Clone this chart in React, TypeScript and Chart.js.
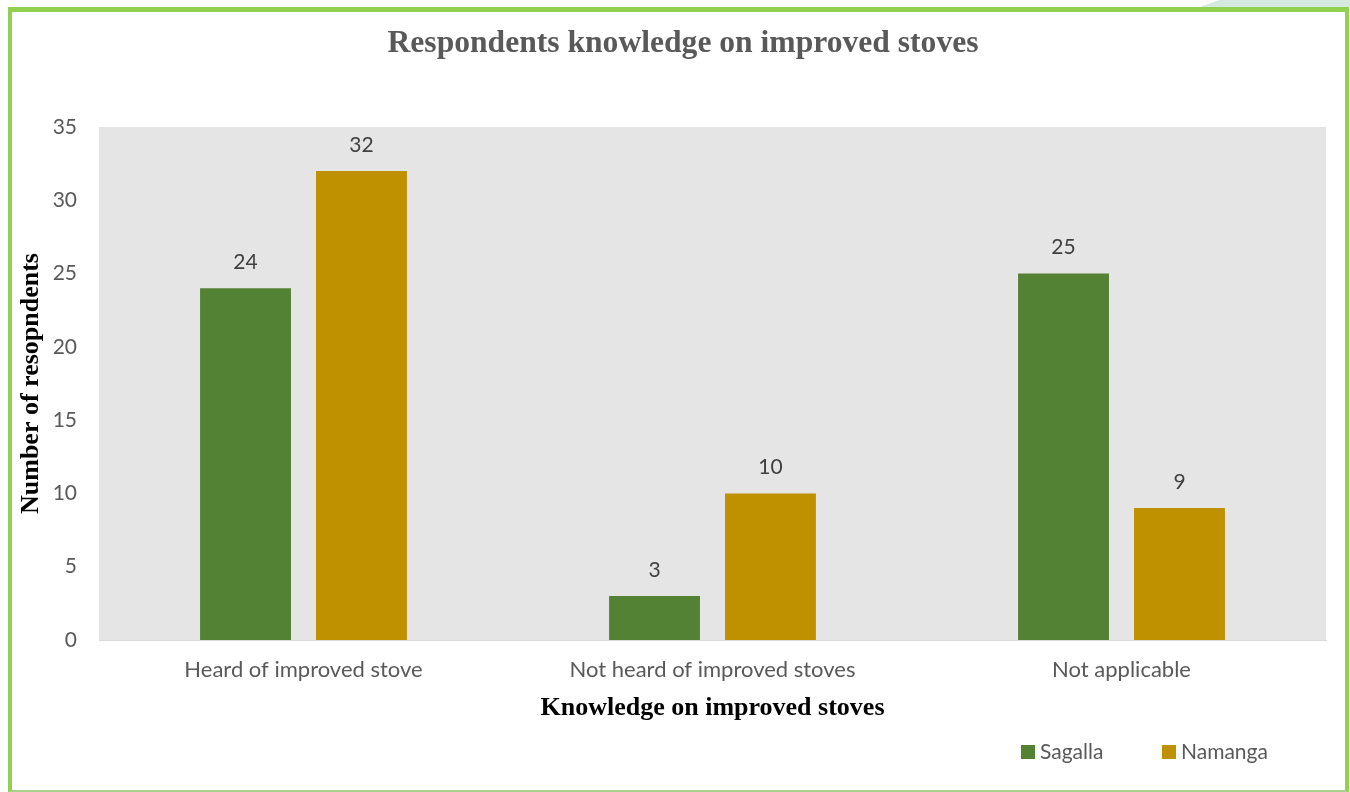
import React, { useEffect, useRef } from "react";
import { Chart, registerables } from "chart.js";

Chart.register(...registerables);

const chartTitle = "Respondents knowledge on improved stoves";
const categories = ["Heard of improved stove", "Not heard of improved stoves", "Not applicable"];
const sagalla = [24, 3, 25];
const namanga = [32, 10, 9];
const seriesNames = ["Sagalla", "Namanga"];
const yTicks = [0, 5, 10, 15, 20, 25, 30, 35];

const TEXT_GRAY = "#595959";
const SANS = "Lato, 'Open Sans', sans-serif";
const SERIF = "'Liberation Serif', 'DejaVu Serif', serif";

const plotBg = {
  id: "plotBg",
  beforeDraw(chart: any) {
    const { ctx, chartArea } = chart;
    if (!chartArea) return;
    ctx.save();
    ctx.fillStyle = "#e5e5e5";
    ctx.fillRect(chartArea.left, chartArea.top, chartArea.right - chartArea.left, chartArea.bottom - chartArea.top);
    ctx.restore();
  },
};

const valueLabels = {
  id: "valueLabels",
  afterDatasetsDraw(chart: any) {
    const { ctx } = chart;
    ctx.save();
    ctx.font = `21px ${SANS}`;
    ctx.fillStyle = "#404040";
    ctx.textAlign = "center";
    ctx.textBaseline = "middle";
    chart.data.datasets.forEach((ds: any, i: number) => {
      const meta = chart.getDatasetMeta(i);
      meta.data.forEach((bar: any, j: number) => {
        ctx.fillText(String(ds.data[j]), bar.x, bar.y - 26);
      });
    });
    ctx.restore();
  },
};

const titlePlugin = {
  id: "titlePlugin",
  afterDraw(chart: any) {
    const { ctx } = chart;
    ctx.save();
    ctx.font = `bold 31.6px ${SERIF}`;
    ctx.fillStyle = TEXT_GRAY;
    ctx.textAlign = "center";
    ctx.textBaseline = "middle";
    ctx.fillText(chartTitle, 683, 44);
    ctx.restore();
  },
};

// Legend drawn at the bottom-right like the original
const legendStarts = [1021, 1162];
const customLegend = {
  id: "customLegend",
  afterDraw(chart: any) {
    const { ctx } = chart;
    ctx.save();
    ctx.font = `21px ${SANS}`;
    ctx.textAlign = "left";
    ctx.textBaseline = "middle";
    const cy = 752;
    chart.data.datasets.forEach((ds: any, i: number) => {
      const x = legendStarts[i];
      ctx.fillStyle = ds.backgroundColor;
      ctx.fillRect(x, cy - 7, 14, 14);
      ctx.fillStyle = TEXT_GRAY;
      ctx.fillText(ds.label, x + 19, cy);
    });
    ctx.restore();
  },
};

export default function App() {
  const ref = useRef<HTMLCanvasElement>(null);
  useEffect(() => {
    if (!ref.current) return;
    const chart = new Chart(ref.current, {
      type: "bar",
      data: {
        labels: categories,
        datasets: [
          {
            label: seriesNames[0],
            data: sagalla,
            backgroundColor: "#548235",
            categoryPercentage: 0.567,
            barPercentage: 0.784,
          },
          {
            label: seriesNames[1],
            data: namanga,
            backgroundColor: "#bf9000",
            categoryPercentage: 0.567,
            barPercentage: 0.784,
          },
        ],
      },
      options: {
        animation: false,
        responsive: false,
        maintainAspectRatio: false,
        layout: { padding: { left: 12, right: 24, top: 127, bottom: 60 } },
        plugins: {
          tooltip: { enabled: false },
          title: { display: false },
          legend: { display: false },
        },
        scales: {
          x: {
            grid: { display: false, drawTicks: false },
            border: { display: true, color: "#d9d9d9" },
            ticks: { color: TEXT_GRAY, font: { family: SANS, size: 22 }, padding: 17 },
            title: {
              display: true,
              text: "Knowledge on improved stoves",
              color: "#000000",
              font: { family: SERIF, size: 26, weight: "bold" },
              padding: { top: 0, bottom: 8 },
            },
            afterFit(scale: any) {
              scale.height = 92;
            },
          },
          y: {
            min: 0,
            max: 35,
            afterBuildTicks(scale: any) {
              scale.ticks = yTicks.map((v) => ({ value: v }));
            },
            grid: { display: false, drawTicks: false },
            border: { display: false },
            ticks: { color: TEXT_GRAY, font: { family: SANS, size: 21 }, padding: 22 },
            title: {
              display: true,
              text: "Number of resopndents",
              color: "#000000",
              font: { family: SERIF, size: 26, weight: "bold" },
              padding: { top: 4, bottom: 0 },
            },
            afterFit(scale: any) {
              scale.width = 87;
            },
          },
        },
      },
      plugins: [plotBg, valueLabels, titlePlugin, customLegend],
    });
    return () => chart.destroy();
  }, []);

  return (
    <div style={{ position: "fixed", left: 0, top: 0, width: 1350, height: 792, background: "#ffffff", overflow: "hidden" }}>
      <div
        style={{
          position: "absolute",
          left: 1200,
          top: 0,
          width: 150,
          height: 7,
          background: "#d5eadf",
          clipPath: "polygon(13% 0, 100% 0, 100% 100%, 0 100%)",
        }}
      />
      <div
        style={{
          position: "absolute",
          left: 8,
          top: 7,
          width: 1341,
          height: 792 - 7,
          boxSizing: "border-box",
          borderTop: "5px solid #92d050",
          borderLeft: "4px solid #92d050",
          borderRight: "4px solid #92d050",
          borderBottom: "2px solid #a9d18e",
        }}
      />
      <canvas ref={ref} width={1350} height={792} style={{ position: "absolute", left: 0, top: 0 }} />
    </div>
  );
}
